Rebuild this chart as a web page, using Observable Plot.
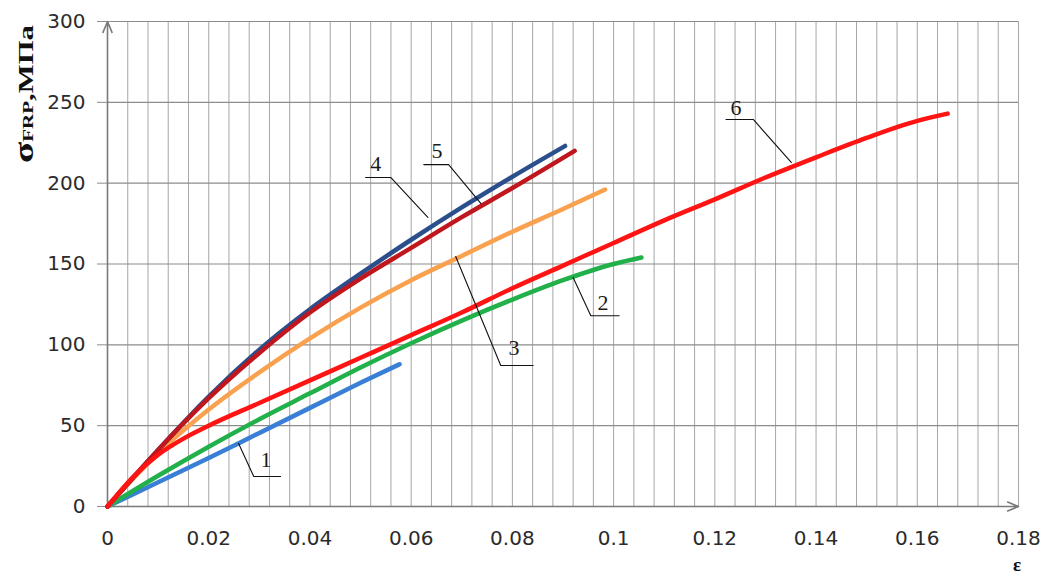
<!DOCTYPE html>
<html>
<head>
<meta charset="utf-8">
<script src="https://cdn.jsdelivr.net/npm/d3@7"></script>
<script src="https://cdn.jsdelivr.net/npm/@observablehq/plot@0.6"></script>
<style>
  html, body { margin: 0; padding: 0; background: #fff; }
  #chart svg { display: block; }
</style>
</head>
<body>
<div id="chart"></div>
<script>
// ---- axes / ticks ----
const xDomain = [0, 0.18];
const yDomain = [0, 300];
const xTicks = [0, 0.02, 0.04, 0.06, 0.08, 0.1, 0.12, 0.14, 0.16, 0.18];
const yTicks = [0, 50, 100, 150, 200, 250, 300];
const xGridStep = 0.004;

// ---- series: [strain ε, stress σ (MPa)] ----
const curve1 = [[0,0],[0.01,15],[0.02,30],[0.03,45.5],[0.04,61],[0.05,76.5],[0.0577,88]];
const curve2 = [[0,0],[0.01,19],[0.02,37],[0.03,54],[0.04,70],[0.05,86],[0.06,101],[0.07,115],[0.08,128],[0.09,140],[0.1,150],[0.1055,154]];
const curve3 = [[0,0],[0.005,17],[0.01,33],[0.02,60],[0.03,83],[0.04,104],[0.05,123],[0.06,140],[0.07,155],[0.08,170],[0.09,184],[0.0983,196]];
const curve4 = [[0,0],[0.01,35],[0.02,68],[0.03,97],[0.04,122],[0.05,144],[0.06,165],[0.07,185],[0.08,204],[0.0904,223]];
const curve5 = [[0,0],[0.01,35],[0.02,67],[0.03,95],[0.04,120],[0.05,141],[0.06,160],[0.07,179],[0.08,197],[0.0923,220]];
const curve6 = [[0,0],[0.005,18],[0.01,32],[0.015,42],[0.02,50],[0.03,64],[0.04,78],[0.05,92],[0.06,106],[0.07,120],[0.08,135],[0.09,149],[0.1,163],[0.11,177],[0.12,190],[0.13,203.5],[0.14,216],[0.15,228],[0.16,238.5],[0.166,243]];

const seriesColors = ["#3a7fd6", "#22b04a", "#f9a14e", "#2a4f8c", "#c0161d", "#ff1414"];
const seriesCurves = [curve1, curve2, curve3, curve4, curve5, curve6];

// ---- numbered leader annotations (data coordinates) ----
const labelNames = ["1", "2", "3", "4", "5", "6"];
const leaderPaths = [
  [[0.0259,39],[0.0289,18.6],[0.0342,18.6]],
  [[0.0920,141.6],[0.0955,118],[0.1011,118]],
  [[0.0688,154.6],[0.0777,87.2],[0.0841,87.2]],
  [[0.0510,203.5],[0.0560,203.5],[0.0633,178.8]],
  [[0.0625,211.5],[0.0674,211.5],[0.0738,187.4]],
  [[0.1222,239.4],[0.1276,239.4],[0.1351,212.8]]
];
const labelAt = [[0.0313,28.5],[0.0979,126],[0.0803,98],[0.0530,212],[0.0651,220],[0.1242,246.8]];

// ---- build tables ----
const xGrid = d3.range(0, Math.round(xDomain[1] / xGridStep) + 1).map(i => +(i * xGridStep).toFixed(4));
const lineMarks = seriesCurves.map((c, i) =>
  Plot.line(c.map(([e, s]) => ({e, s})), {
    x: "e", y: "s", stroke: seriesColors[i], strokeWidth: 4.5,
    strokeLinecap: "round", strokeLinejoin: "round", curve: "monotone-x"
  })
);
const leaderData = leaderPaths.flatMap((p, i) => p.map(([e, s]) => ({id: labelNames[i], e, s})));
const labelData = labelAt.map(([e, s], i) => ({e, s, t: labelNames[i]}));
const fmt = d => d === 0 ? "0" : String(+d.toFixed(2));

const chart = Plot.plot({
  width: 1043,
  height: 576,
  marginLeft: 107,
  marginRight: 25,
  marginTop: 21,
  marginBottom: 70,
  style: {background: "#fff", fontFamily: "DejaVu Sans", fontSize: "20px", color: "#2b2b2b"},
  x: {domain: xDomain, axis: null},
  y: {domain: yDomain, axis: null},
  marks: [
    Plot.ruleX(xGrid, {stroke: "#a6a6a6", strokeWidth: 1}),
    Plot.ruleY(yTicks, {stroke: "#8c8c8c", strokeWidth: 1.2}),
    Plot.axisY(yTicks, {anchor: "left", tickSize: 10, tickPadding: 12, stroke: "#8c8c8c", fill: "#2b2b2b", tickFormat: fmt, label: null}),
    Plot.axisX(xTicks, {anchor: "bottom", tickSize: 0, tickPadding: 24, fill: "#2b2b2b", tickFormat: fmt, label: null}),
    Plot.arrow([{x1: xDomain[0], y1: yDomain[0], x2: xDomain[0], y2: yDomain[1]}],
      {x1: "x1", y1: "y1", x2: "x2", y2: "y2", stroke: "#7a7a7a", strokeWidth: 1.6, headLength: 11, headAngle: 45}),
    Plot.arrow([{x1: xDomain[0], y1: yDomain[0], x2: xDomain[1], y2: yDomain[0]}],
      {x1: "x1", y1: "y1", x2: "x2", y2: "y2", stroke: "#7a7a7a", strokeWidth: 1.6, headLength: 11, headAngle: 45}),
    ...lineMarks,
    Plot.line(leaderData, {x: "e", y: "s", z: "id", stroke: "#111", strokeWidth: 1.1}),
    Plot.text(labelData, {x: "e", y: "s", text: "t", fontFamily: "Liberation Serif", fontSize: 22, fill: "#1a1a1a", lineAnchor: "middle"})
  ]
});

const svg = d3.select(chart);
// y-axis title: σFRP,МПа (rotated)
const yt = svg.append("text")
  .attr("transform", "translate(33,163) rotate(-90)")
  .attr("text-anchor", "start")
  .attr("font-family", "Liberation Serif")
  .attr("font-weight", "bold")
  .attr("font-size", 22)
  .attr("fill", "#111")
  .attr("textLength", 138)
  .attr("lengthAdjust", "spacingAndGlyphs");
yt.append("tspan").attr("font-size", 28).text("σ");
yt.append("tspan").attr("font-size", 15).text("FRP");
yt.append("tspan").text(",МПа");
// x-axis title: ε
svg.append("text")
  .attr("x", 1017).attr("y", 571)
  .attr("text-anchor", "middle")
  .attr("font-family", "Liberation Serif")
  .attr("font-weight", "bold")
  .attr("font-size", 19)
  .attr("fill", "#111")
  .text("ε");

document.getElementById("chart").appendChild(chart);
</script>
</body>
</html>
